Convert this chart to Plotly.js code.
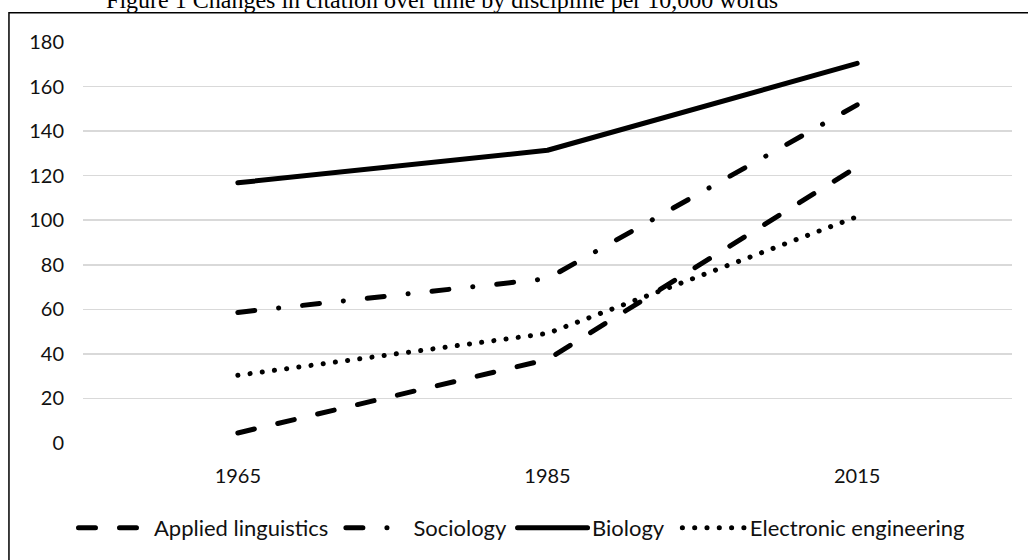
<!DOCTYPE html>
<html>
<head>
<meta charset="utf-8">
<script src="https://cdn.plot.ly/plotly-3.0.1.min.js"></script>
<style>
  html, body { margin: 0; padding: 0; background: #fff; }
  #chart { width: 1028px; height: 560px; }
  .scatterlayer .js-line, .legend .legendlines path { stroke-linecap: round !important; stroke-linejoin: round !important; }
  .legend .traces:nth-of-type(1) .legendlines path { d: path("M4.5,0h58"); }
  .legend .traces:nth-of-type(2) .legendlines path { d: path("M12.5,0h61"); }
  .legend .traces:nth-of-type(3) .legendlines path { d: path("M5.5,0h70"); }
  .legend .traces:nth-of-type(4) .legendlines path { d: path("M12.5,0h62"); }
</style>
</head>
<body>
<div id="chart"></div>
<script>
const years = ["1965", "1985", "2015"];
const appliedLinguistics = [4.5, 37.5, 124];
const sociology = [58.6, 73.8, 151.8];
const biology = [116.8, 131.4, 170.4];
const electronicEngineering = [30.4, 49.2, 101.6];
const yTicks = [0, 20, 40, 60, 80, 100, 120, 140, 160, 180];

const lineW = 5;
const traces = [
  {name: "Applied linguistics", y: appliedLinguistics, dash: "17px,24px"},
  {name: "Sociology", y: sociology, dash: "17px,24px,0.1px,24px"},
  {name: "Biology", y: biology, dash: "solid"},
  {name: "Electronic engineering", y: electronicEngineering, dash: "0.1px,12.2px"}
].map(t => ({
  type: "scatter",
  mode: "lines",
  x: years,
  y: t.y,
  name: t.name,
  line: {color: "#000000", width: lineW, dash: t.dash},
  hoverinfo: "skip"
}));

const font = "Lato, 'Open Sans', sans-serif";
const layout = {
  width: 1028,
  height: 560,
  margin: {l: 83, r: 16, t: 42, b: 116},
  paper_bgcolor: "#ffffff",
  plot_bgcolor: "#ffffff",
  showlegend: true,
  title: {
    text: "Figure 1 Changes in citation over time by discipline per 10,000 words",
    font: {family: "'Liberation Serif', 'Times New Roman', serif", size: 24, color: "#000"},
    x: 0.43, xref: "container", xanchor: "center",
    y: 1, yref: "container", yanchor: "middle"
  },
  xaxis: {
    type: "category",
    range: [-0.5, 2.5],
    showgrid: false,
    zeroline: false,
    showline: false,
    ticks: "",
    ticklabelstandoff: 19,
    tickfont: {family: font, size: 20, color: "#111"},
    fixedrange: true
  },
  yaxis: {
    range: [0, 180],
    tickvals: yTicks,
    ticktext: yTicks.map(String),
    showgrid: true,
    gridcolor: "#d9d9d9",
    gridwidth: 1.5,
    zeroline: false,
    showline: false,
    ticks: "",
    ticklabelstandoff: 18,
    tickfont: {family: font, size: 20, color: "#111"},
    fixedrange: true
  },
  legend: {
    orientation: "h",
    x: -0.0097, xanchor: "left",
    y: -0.209, yanchor: "middle",
    itemwidth: 70,
    font: {family: font, size: 22, color: "#111"},
    bgcolor: "rgba(0,0,0,0)",
    traceorder: "normal",
    itemclick: false,
    itemdoubleclick: false
  },
  shapes: [{
    type: "rect",
    xref: "paper", yref: "paper",
    x0: -0.0797, x1: 1.05, y0: -0.35, y1: 1.0729,
    line: {color: "#000000", width: 1.5},
    fillcolor: "rgba(0,0,0,0)",
    layer: "above"
  }]
};

Plotly.newPlot("chart", traces, layout, {displayModeBar: false, staticPlot: true});
</script>
</body>
</html>
